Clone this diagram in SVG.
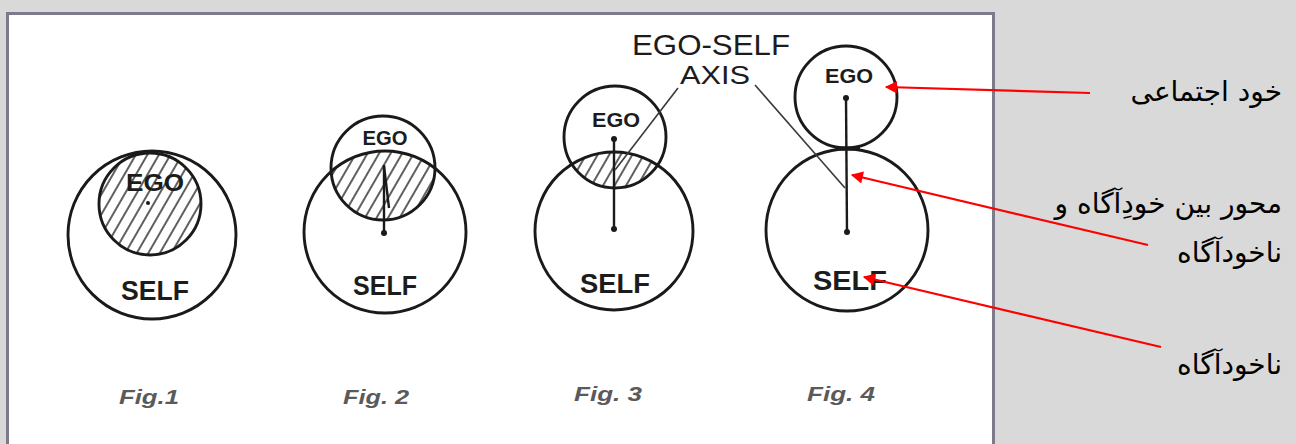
<svg xmlns="http://www.w3.org/2000/svg" width="1296" height="444" viewBox="0 0 1296 444">
<style>
.c{fill:none;stroke:#1a1a1a;stroke-width:2.9}
.lens{fill:url(#hatch);stroke:none}
.dot{fill:#1a1a1a}
.ax{stroke:#1a1a1a;stroke-width:2.4;fill:none}
.lbl{font-family:"Liberation Sans",Arial,sans-serif;font-weight:bold;fill:#1c1c1c;text-anchor:middle}
.fig{font-family:"Liberation Sans",Arial,sans-serif;font-weight:bold;font-style:italic;fill:#5a5a5a;font-size:21px;text-anchor:middle}
.fa{font-family:"DejaVu Sans","Noto Sans",sans-serif;font-size:28px;fill:#000;text-anchor:end}
.red{stroke:#ff0000;stroke-width:2.2;fill:none;marker-end:url(#ah)}
.lead{stroke:#3a3a3a;stroke-width:1.6;fill:none}
</style>
<defs>
<pattern id="hatch" patternUnits="userSpaceOnUse" width="10" height="10" patternTransform="rotate(30)">
<line x1="5" y1="-1" x2="5" y2="11" stroke="#2a2a2a" stroke-width="1.5"/>
</pattern>
<marker id="ah" viewBox="0 0 10 10" refX="9" refY="5" markerWidth="7.5" markerHeight="5.5" markerUnits="strokeWidth" orient="auto">
<path d="M0,0 L10,5 L0,10 z" fill="#ff0000"/>
</marker>
<clipPath id="cp2"><circle cx="385" cy="232" r="81"/></clipPath>
<clipPath id="cp3"><circle cx="614" cy="231" r="79"/></clipPath>
</defs>
<rect x="0" y="0" width="1296" height="444" fill="#d9d9d9"/>
<rect x="7.5" y="13.5" width="986" height="440" fill="#ffffff" stroke="#7b7b8c" stroke-width="3"/>

<g id="fig1">
<circle cx="150" cy="204" r="51" fill="url(#hatch)"/>
<circle class="c" cx="152" cy="235" r="84"/>
<circle class="c" cx="150" cy="204" r="51" stroke-width="3.2"/>
<circle class="dot" cx="148" cy="203" r="2"/>
<text class="lbl" x="155" y="191" font-size="23" textLength="58" lengthAdjust="spacingAndGlyphs">EGO</text>
<text class="lbl" x="155" y="300" font-size="28" textLength="68" lengthAdjust="spacingAndGlyphs">SELF</text>
<text class="fig" x="149" y="404" textLength="60" lengthAdjust="spacingAndGlyphs">Fig.1</text>
</g>

<g id="fig2">
<circle class="lens" cx="383" cy="168" r="52" clip-path="url(#cp2)"/>
<circle class="c" cx="385" cy="232" r="81"/>
<circle class="c" cx="383" cy="168" r="52"/>
<line class="ax" x1="384" y1="165" x2="384" y2="233"/>
<line class="ax" x1="384" y1="166" x2="389" y2="208" stroke-width="1.6"/>
<circle class="dot" cx="384" cy="233" r="3"/>
<text class="lbl" x="385" y="145" font-size="20" textLength="45" lengthAdjust="spacingAndGlyphs">EGO</text>
<text class="lbl" x="385" y="295" font-size="28" textLength="64" lengthAdjust="spacingAndGlyphs">SELF</text>
<text class="fig" x="376" y="404" textLength="66" lengthAdjust="spacingAndGlyphs">Fig. 2</text>
</g>

<g id="fig3">
<circle class="lens" cx="615" cy="137" r="51" clip-path="url(#cp3)"/>
<circle class="c" cx="614" cy="231" r="79"/>
<circle class="c" cx="615" cy="137" r="51"/>
<line class="ax" x1="614" y1="139" x2="614" y2="229"/>
<circle class="dot" cx="614" cy="139" r="3"/>
<circle class="dot" cx="614" cy="229" r="3"/>
<text class="lbl" x="616" y="127" font-size="20" textLength="48" lengthAdjust="spacingAndGlyphs">EGO</text>
<text class="lbl" x="615" y="293" font-size="28" textLength="70" lengthAdjust="spacingAndGlyphs">SELF</text>
<text class="fig" x="608" y="401" textLength="68" lengthAdjust="spacingAndGlyphs">Fig. 3</text>
</g>

<g id="fig4">
<circle class="c" cx="847" cy="230" r="81"/>
<circle class="c" cx="846" cy="97" r="51"/>
<line class="ax" x1="846" y1="98" x2="847" y2="232"/>
<line x1="835" y1="148.5" x2="860" y2="148.5" stroke="#1a1a1a" stroke-width="4"/>
<circle class="dot" cx="846" cy="98" r="3"/>
<circle class="dot" cx="847" cy="232" r="3"/>
<text class="lbl" x="849" y="83" font-size="21" textLength="48" lengthAdjust="spacingAndGlyphs">EGO</text>
<text class="lbl" x="850" y="290" font-size="28" textLength="74" lengthAdjust="spacingAndGlyphs">SELF</text>
<text class="fig" x="841" y="401" textLength="68" lengthAdjust="spacingAndGlyphs">Fig. 4</text>
</g>

<g id="axis-label">
<text class="lbl" x="711" y="55" font-size="30" style="font-weight:normal" textLength="158" lengthAdjust="spacingAndGlyphs">EGO-SELF</text>
<text class="lbl" x="715" y="84" font-size="25" style="font-weight:normal" textLength="70" lengthAdjust="spacingAndGlyphs">AXIS</text>
</g>

<g id="fa-labels">
<text id="t-ego" class="fa" x="1282" y="101">خود اجتماعی</text>
<text id="t-axis1" class="fa" x="1282" y="213">محور بین خودِآگاه و</text>
<text id="t-axis2" class="fa" x="1282" y="262">ناخودآگاه</text>
<text id="t-self" class="fa" x="1282" y="374">ناخودآگاه</text>
</g>

<g id="connectors">
<line class="lead" x1="678" y1="88" x2="615" y2="170"/>
<line class="lead" x1="755" y1="85" x2="845" y2="188"/>
<line class="red" x1="1090" y1="93" x2="886" y2="87"/>
<line class="red" x1="1148" y1="245" x2="852" y2="175"/>
<line class="red" x1="1161" y1="347" x2="864" y2="277"/>
</g>
</svg>
